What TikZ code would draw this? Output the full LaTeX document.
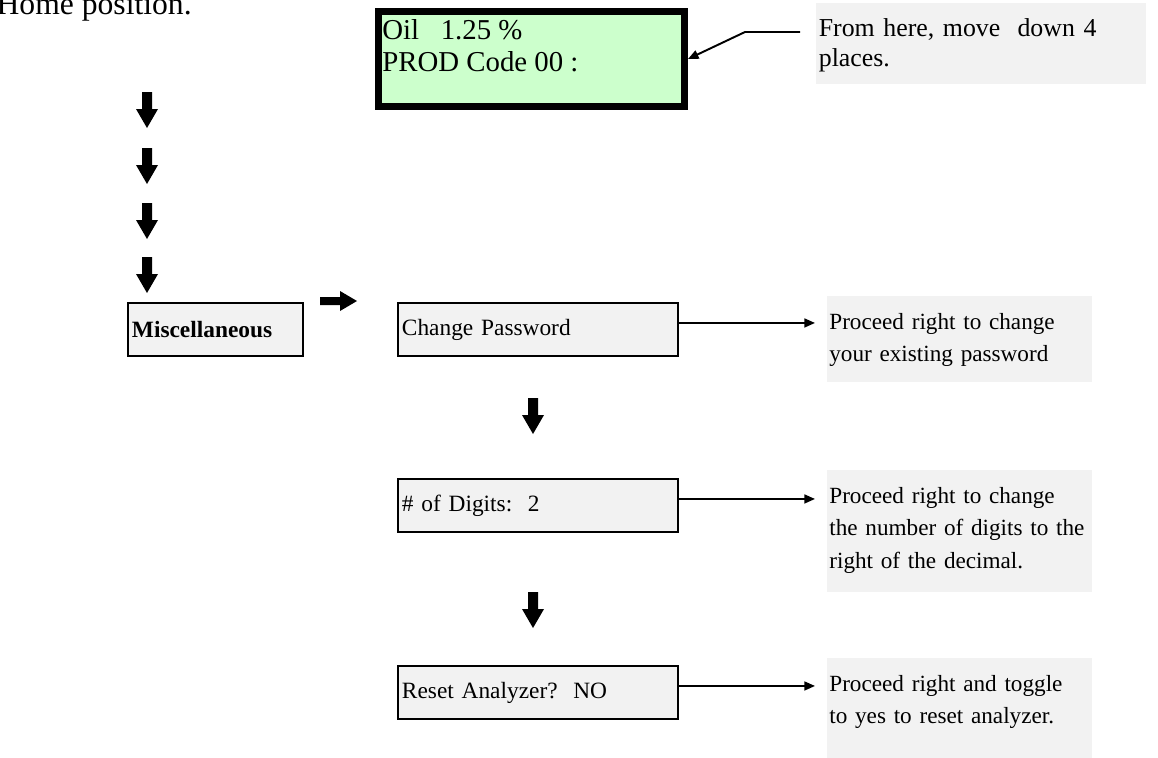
\documentclass[tikz,border=0pt]{standalone}
\usepackage{fontspec}
\setmainfont{Liberation Serif}
\usetikzlibrary{arrows.meta}
\definecolor{lcdgreen}{RGB}{204,255,204}
\definecolor{boxgray}{RGB}{242,242,242}
\newcommand{\lcdfont}{\fontsize{16.4}{18.2}\selectfont}
\newcommand{\boxfont}{\fontsize{13.3}{16}\selectfont}
\newcommand{\notefont}{\fontsize{13.2}{18.5}\selectfont}
\tikzset{
  menubox/.style={draw,line width=1.1pt,fill=boxgray,anchor=north west,text width=5.44cm,inner xsep=0.08cm,minimum height=1.06cm,align=left,font=\boxfont},
  note/.style={fill=boxgray,anchor=north west,inner xsep=0.04cm,inner ysep=0.16cm,text height=0.5cm,align=left,font=\notefont},
  link/.style={line width=1.1pt,-{Triangle[length=6pt,width=5pt]},shorten >=0.24cm},
  fatdown/.pic={\fill (-5,0) -- (5,0) -- (5,17) -- (11,17) -- (0,36) -- (-11,17) -- (-5,17) -- cycle;},
  fatright/.pic={\fill (0,-4) -- (20,-4) -- (20,-10) -- (37,0) -- (20,10) -- (20,4) -- (0,4) -- cycle;}
}
\begin{document}
\begin{tikzpicture}[x=0.02cm,y=-0.02cm]
    \useasboundingbox (0,0) rectangle (1158,757);
    \node[anchor=base east,inner sep=0,font=\fontsize{18}{20}\selectfont] (home) at (192,15) {Home position.};
    % display
    \node[draw,line width=4pt,fill=lcdgreen,minimum width=6.12cm,minimum height=1.9cm,anchor=north west,inner sep=0] (lcd) at (375,8) {};
    \node[anchor=north west,inner sep=0,align=left,font=\lcdfont] (lcdtxt) at (382,19) {Oil\ \ \ 1.25 \%\\PROD Code 00 :};
    \node[note,text width=6.5cm,inner xsep=0.05cm,text height=0.5cm,text depth=0.8cm,font=\fontsize{14.7}{17}\selectfont] (movenote) at (816,3) {From here, move\ \ down 4\\places.};
    \coordinate (lead) at (800,32);
    \coordinate (bend) at (745,32);
    \draw[link,shorten >=0pt] (lead) -- (bend) -- (lcd.east);
    % down 4 places
    \foreach \ty in {92,148,203,257}
        \pic at (147,\ty) {fatdown};
    \node[menubox,text width=3.34cm] (misc) at (127,302) {\textbf{Miscellaneous}};
    \pic at (320,301) {fatright};
    % menu items
    \node[menubox] (pw) at (397,302) {Change Password};
    \node[menubox] (dig) at (397,478) {\# of Digits:\ \ 2};
    \node[menubox] (rst) at (397,665) {Reset Analyzer?\ \ NO};
    \pic at (533,398) {fatdown};
    \pic at (533,592) {fatdown};
    % notes
    \node[note,text width=5.22cm,text depth=0.9cm] (pwnote) at (827,296) {Proceed right to change\\your existing password};
    \node[note,text width=5.22cm,text depth=1.61cm] (dignote) at (827,470) {Proceed right to change\\the number of digits to the\\right of the decimal.};
    \node[note,text width=5.22cm,text depth=1.4cm] (rstnote) at (827,658) {Proceed right and toggle\\to yes to reset analyzer.};
    \coordinate (pwout) at ([yshift=3.7pt]pw.east);
    \coordinate (digout) at ([yshift=3.7pt]dig.east);
    \coordinate (rstout) at ([yshift=3.7pt]rst.east);
    \draw[link] (pwout) -- (pwout -| pwnote.west);
    \draw[link] (digout) -- (digout -| dignote.west);
    \draw[link] (rstout) -- (rstout -| rstnote.west);
\end{tikzpicture}
\end{document}
